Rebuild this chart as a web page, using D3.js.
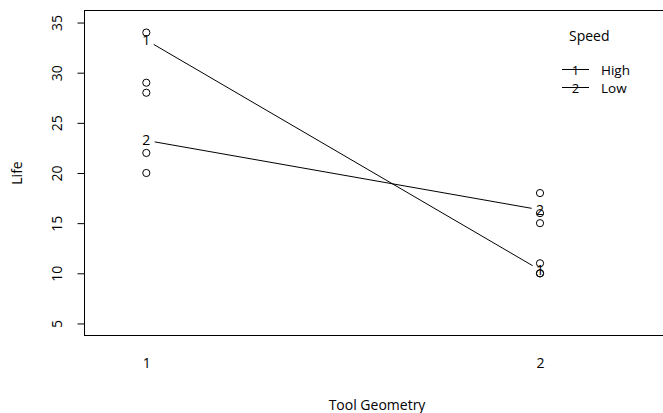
<!DOCTYPE html>
<html><head><meta charset="utf-8">
<script src="https://cdn.jsdelivr.net/npm/d3@7"></script>
<style>
body{margin:0;background:#fff;}
text{font-family:"Open Sans",sans-serif;fill:#000;}
</style></head>
<body><svg id="c" width="663" height="413"></svg>
<script>
const geometry = ["1", "2"];
const speeds = ["High", "Low"];
const speedCodes = ["1", "2"];
const meanHigh = [33.25, 10.33];
const meanLow = [23.25, 16.33];
const obsGeom1 = [34, 29, 28, 22, 20];
const obsGeom2 = [18, 16, 15, 11, 10, 10];
const yTicks = [5, 10, 15, 20, 25, 30, 35];

(function () {
const svg = d3.select("#c");
const pL = 84.5, pR = 666, pT = 10.5, pB = 335.5;
const x = d3.scaleLinear().domain([0.843, 2.32]).range([pL, pR]);
const y = d3.scaleLinear().domain([3.8, 36.2]).range([pB, pT]);
const fs = 14;

// box
svg.append("rect").attr("x", pL).attr("y", pT).attr("width", pR - pL).attr("height", pB - pT)
  .attr("fill", "none").attr("stroke", "#000").attr("stroke-width", 1);

// y axis
const yAxis = svg.append("g").attr("transform", `translate(${pL},0)`)
  .call(d3.axisLeft(y).tickValues(yTicks).tickSize(7).tickPadding(14).tickFormat(d3.format("d")));
yAxis.select(".domain").remove();
yAxis.selectAll("line").attr("stroke", "#000");
yAxis.selectAll("text").attr("font-size", fs).attr("font-family", "Open Sans")
  .attr("text-anchor", "middle").attr("x", null)
  .attr("transform", `translate(-27,0) rotate(-90)`).attr("dy", "0.35em");

// x axis labels (no ticks)
const xAxis = svg.append("g").attr("transform", `translate(0,${pB})`)
  .call(d3.axisBottom(x).tickValues([1, 2]).tickSize(0).tickPadding(23).tickFormat((d, i) => geometry[i]));
xAxis.select(".domain").remove();
xAxis.selectAll("text").attr("font-size", fs).attr("font-family", "Open Sans");

// axis titles
svg.append("text").attr("x", 377).attr("y", 405).attr("text-anchor", "middle")
  .attr("dy", "0.35em").attr("font-size", fs).text("Tool Geometry");
svg.append("text").attr("transform", `translate(17,${(pT + pB) / 2}) rotate(-90)`)
  .attr("text-anchor", "middle").attr("dy", "0.35em").attr("font-size", fs).text("Life");

// observation points
const pts = [];
obsGeom1.forEach(v => pts.push({g: 1, v}));
obsGeom2.forEach(v => pts.push({g: 2, v}));
svg.append("g").selectAll("circle").data(pts).join("circle")
  .attr("cx", d => x(d.g)).attr("cy", d => y(d.v)).attr("r", 3.6)
  .attr("fill", "none").attr("stroke", "#000").attr("stroke-width", 1);

// interaction lines (type "b": gaps around labels)
const series = [meanHigh, meanLow];
const gap = 8.5;
series.forEach((s, k) => {
  const p = s.map((v, i) => [x(i + 1), y(v)]);
  for (let i = 0; i < p.length - 1; i++) {
    const dx = p[i + 1][0] - p[i][0], dy = p[i + 1][1] - p[i][1];
    const L = Math.hypot(dx, dy), ux = dx / L, uy = dy / L;
    svg.append("line")
      .attr("x1", p[i][0] + ux * gap).attr("y1", p[i][1] + uy * gap)
      .attr("x2", p[i + 1][0] - ux * gap).attr("y2", p[i + 1][1] - uy * gap)
      .attr("stroke", "#000").attr("stroke-width", 1);
  }
  p.forEach(q => svg.append("text").attr("x", q[0]).attr("y", q[1]).attr("dy", "0.35em")
    .attr("text-anchor", "middle").attr("font-size", fs).text(speedCodes[k]));
});

// legend
svg.append("text").attr("x", 569).attr("y", 36).attr("dy", "0.35em").attr("font-size", fs).text("Speed");
speeds.forEach((s, k) => {
  const ly = 69.5 + k * 18;
  svg.append("line").attr("x1", 562).attr("x2", 589).attr("y1", ly).attr("y2", ly)
    .attr("stroke", "#000").attr("stroke-width", 1);
  svg.append("text").attr("x", 575.5).attr("y", ly + 1).attr("dy", "0.35em").attr("text-anchor", "middle")
    .attr("font-size", 13).text(speedCodes[k]);
  svg.append("text").attr("x", 601).attr("y", ly + 1).attr("dy", "0.35em").attr("font-size", 13.5).text(s);
});
})();
</script></body></html>
